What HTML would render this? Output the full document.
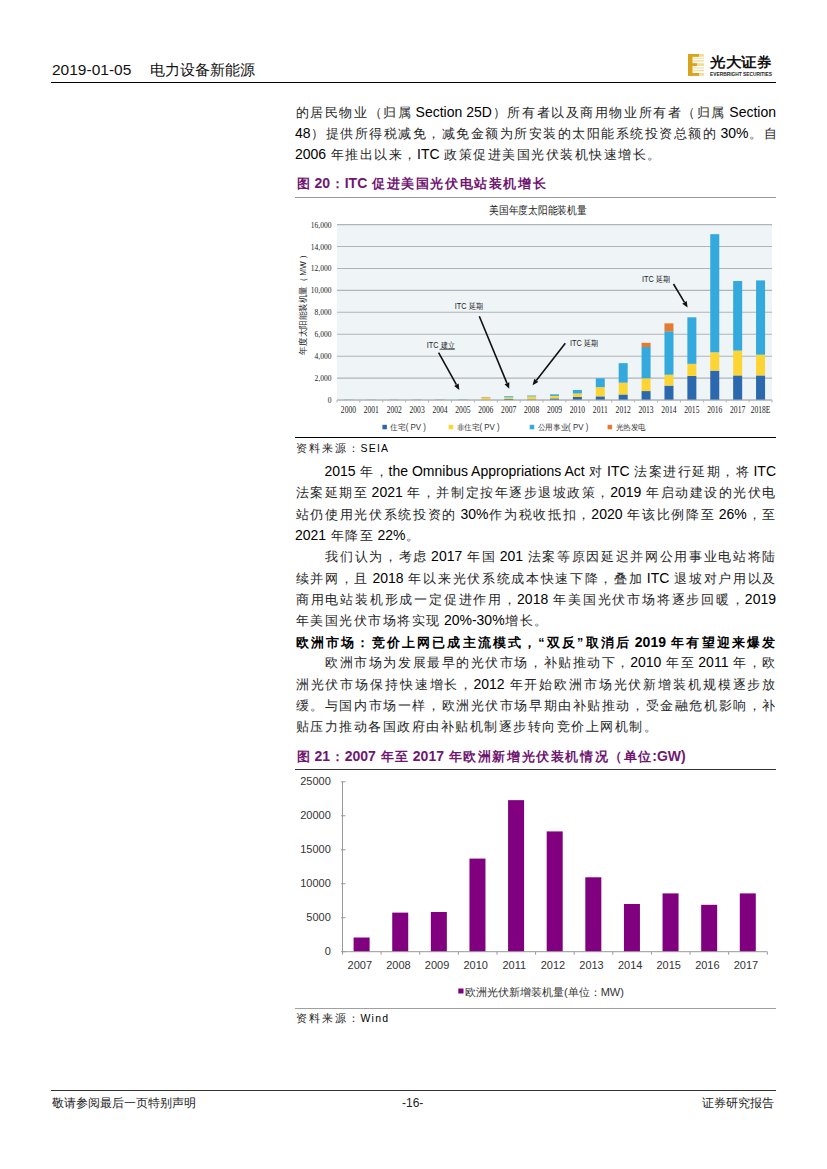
<!DOCTYPE html>
<html><head><meta charset="utf-8">
<style>
html,body{margin:0;padding:0;background:#fff;}
body{width:827px;height:1169px;position:relative;overflow:hidden;font-family:"Liberation Sans",sans-serif;color:#000;}
.a{position:absolute;white-space:nowrap;}
.ln{position:absolute;left:295px;width:481px;height:22px;line-height:22px;font-size:14px;white-space:nowrap;text-align:justify;text-align-last:justify;}
.ln.l{text-align:left;text-align-last:left;}
.c{font-size:12.5px;letter-spacing:1.5px;position:relative;left:0.75px;color:#262626;}
.cap .c{color:inherit}
.h .c{color:#000}
.cap{position:absolute;left:296px;font-size:14px;font-weight:bold;color:#701670;white-space:nowrap;line-height:20px;}
.src{position:absolute;left:296px;font-size:10.5px;letter-spacing:1.2px;white-space:nowrap;line-height:16px;}
.src .c{font-size:10.5px;letter-spacing:1.9px;left:0}
.cap .c{font-size:12.5px;letter-spacing:1.6px;left:0.8px}
.hr{position:absolute;height:0;}
.sv{font-family:"Liberation Serif",serif;}
.ss{font-family:"Liberation Sans",sans-serif;}
</style></head><body>

<!-- header -->
<div class="a" style="left:52px;top:58px;font-size:15.5px;line-height:24px;color:#111;">2019-01-05<span style="display:inline-block;width:19px"></span><span style="font-size:15px">电力设备新能源</span></div>
<div class="hr" style="left:51px;top:81.8px;width:725px;border-top:1.4px solid #000;"></div>

<!-- logo -->
<svg class="a" style="left:686px;top:52px" width="92" height="26" viewBox="0 0 92 26">
  <rect x="2" y="2" width="16" height="2.8" fill="#f1dc98"/>
  <rect x="2" y="2" width="11" height="2.8" fill="#d9a31c"/>
  <rect x="6.5" y="5.6" width="11.5" height="1.5" fill="#f4e6b4"/>
  <rect x="6.5" y="8.2" width="11.5" height="1.5" fill="#efe0a8"/>
  <rect x="2" y="11.2" width="16" height="2.8" fill="#f1dc98"/>
  <rect x="2" y="11.2" width="9" height="2.8" fill="#d9a31c"/>
  <rect x="6.5" y="15.2" width="11.5" height="1.5" fill="#f4e6b4"/>
  <rect x="6.5" y="17.8" width="11.5" height="1.5" fill="#efe0a8"/>
  <rect x="2" y="21" width="16" height="2.8" fill="#f1dc98"/>
  <rect x="2" y="21" width="11" height="2.8" fill="#d9a31c"/>
  <rect x="2" y="2" width="4.5" height="21.8" fill="#d9a31c"/>
  <text x="24" y="15" font-family="Liberation Serif" font-size="14" font-weight="bold" fill="#111" textLength="62" lengthAdjust="spacingAndGlyphs">光大证券</text>
  <text x="24" y="23.8" font-family="Liberation Sans" font-size="5" font-weight="bold" fill="#222" textLength="62" lengthAdjust="spacingAndGlyphs">EVERBRIGHT SECURITIES</text>
</svg>

<!-- paragraph 1 -->
<div class="ln" style="top:100.5px"><span class="c">的居民物业（归属</span> Section 25D<span class="c">）所有者以及商用物业所有者（归属</span> Section</div>
<div class="ln" style="top:121.8px">48<span class="c">）提供所得税减免，减免金额为所安装的太阳能系统投资总额的</span> 30%<span class="c">。自</span></div>
<div class="ln l" style="top:143px">2006 <span class="c">年推出以来，</span>ITC <span class="c">政策促进美国光伏装机快速增长。</span></div>

<!-- caption 20 -->
<div class="cap" style="top:173.4px"><span class="c">图</span> 20<span class="c">：</span>ITC <span class="c">促进美国光伏电站装机增长</span></div>
<div class="hr" style="left:295px;top:197px;width:481px;border-top:1px solid #999;"></div>

<!-- chart 1 -->
<svg class="a" style="left:0;top:0" width="827" height="440" viewBox="0 0 827 440">
<rect x="337.0" y="224" width="435.0" height="176.04000000000002" fill="#eff4f7"/>
<line x1="337.0" x2="772.0" y1="224.6" y2="224.6" stroke="#aeb4b8" stroke-width="1.1"/>
<text x="331.5" y="227.6" text-anchor="end" class="sv" font-size="9.2" fill="#1a1a1a" transform="translate(331.5 0) scale(0.82 1) translate(-331.5 0)">16,000</text>
<line x1="337.0" x2="772.0" y1="246.53" y2="246.53" stroke="#aeb4b8" stroke-width="1.1"/>
<text x="331.5" y="249.53" text-anchor="end" class="sv" font-size="9.2" fill="#1a1a1a" transform="translate(331.5 0) scale(0.82 1) translate(-331.5 0)">14,000</text>
<line x1="337.0" x2="772.0" y1="268.46" y2="268.46" stroke="#aeb4b8" stroke-width="1.1"/>
<text x="331.5" y="271.46" text-anchor="end" class="sv" font-size="9.2" fill="#1a1a1a" transform="translate(331.5 0) scale(0.82 1) translate(-331.5 0)">12,000</text>
<line x1="337.0" x2="772.0" y1="290.39" y2="290.39" stroke="#aeb4b8" stroke-width="1.1"/>
<text x="331.5" y="293.39" text-anchor="end" class="sv" font-size="9.2" fill="#1a1a1a" transform="translate(331.5 0) scale(0.82 1) translate(-331.5 0)">10,000</text>
<line x1="337.0" x2="772.0" y1="312.32" y2="312.32" stroke="#aeb4b8" stroke-width="1.1"/>
<text x="331.5" y="315.32" text-anchor="end" class="sv" font-size="9.2" fill="#1a1a1a" transform="translate(331.5 0) scale(0.82 1) translate(-331.5 0)">8,000</text>
<line x1="337.0" x2="772.0" y1="334.25" y2="334.25" stroke="#aeb4b8" stroke-width="1.1"/>
<text x="331.5" y="337.25" text-anchor="end" class="sv" font-size="9.2" fill="#1a1a1a" transform="translate(331.5 0) scale(0.82 1) translate(-331.5 0)">6,000</text>
<line x1="337.0" x2="772.0" y1="356.18" y2="356.18" stroke="#aeb4b8" stroke-width="1.1"/>
<text x="331.5" y="359.18" text-anchor="end" class="sv" font-size="9.2" fill="#1a1a1a" transform="translate(331.5 0) scale(0.82 1) translate(-331.5 0)">4,000</text>
<line x1="337.0" x2="772.0" y1="378.11" y2="378.11" stroke="#aeb4b8" stroke-width="1.1"/>
<text x="331.5" y="381.11" text-anchor="end" class="sv" font-size="9.2" fill="#1a1a1a" transform="translate(331.5 0) scale(0.82 1) translate(-331.5 0)">2,000</text>
<line x1="337.0" x2="772.0" y1="400.04" y2="400.04" stroke="#aeb4b8" stroke-width="1.1"/>
<text x="331.5" y="403.04" text-anchor="end" class="sv" font-size="9.2" fill="#1a1a1a" transform="translate(331.5 0) scale(0.82 1) translate(-331.5 0)">0</text>
<rect x="343.95" y="399.93" width="9" height="0.11" fill="#2b68ae"/>
<rect x="343.95" y="399.77" width="9" height="0.16" fill="#fcd535"/>
<rect x="343.95" y="399.55" width="9" height="0.22" fill="#33a9de"/>
<text x="348.45" y="413.3" text-anchor="middle" class="sv" font-size="9.5" fill="#1a1a1a" transform="translate(348.45 0) scale(0.8 1) translate(-348.45 0)">2000</text>
<rect x="366.84" y="399.93" width="9" height="0.11" fill="#2b68ae"/>
<rect x="366.84" y="399.77" width="9" height="0.16" fill="#fcd535"/>
<rect x="366.84" y="399.55" width="9" height="0.22" fill="#33a9de"/>
<text x="371.34" y="413.3" text-anchor="middle" class="sv" font-size="9.5" fill="#1a1a1a" transform="translate(371.34 0) scale(0.8 1) translate(-371.34 0)">2001</text>
<rect x="389.74" y="399.93" width="9" height="0.11" fill="#2b68ae"/>
<rect x="389.74" y="399.71" width="9" height="0.22" fill="#fcd535"/>
<rect x="389.74" y="399.49" width="9" height="0.22" fill="#33a9de"/>
<text x="394.24" y="413.3" text-anchor="middle" class="sv" font-size="9.5" fill="#1a1a1a" transform="translate(394.24 0) scale(0.8 1) translate(-394.24 0)">2002</text>
<rect x="412.63" y="399.88" width="9" height="0.16" fill="#2b68ae"/>
<rect x="412.63" y="399.6" width="9" height="0.27" fill="#fcd535"/>
<rect x="412.63" y="399.38" width="9" height="0.22" fill="#33a9de"/>
<text x="417.13" y="413.3" text-anchor="middle" class="sv" font-size="9.5" fill="#1a1a1a" transform="translate(417.13 0) scale(0.8 1) translate(-417.13 0)">2003</text>
<rect x="435.53" y="399.82" width="9" height="0.22" fill="#2b68ae"/>
<rect x="435.53" y="399.49" width="9" height="0.33" fill="#fcd535"/>
<rect x="435.53" y="399.27" width="9" height="0.22" fill="#33a9de"/>
<text x="440.03" y="413.3" text-anchor="middle" class="sv" font-size="9.5" fill="#1a1a1a" transform="translate(440.03 0) scale(0.8 1) translate(-440.03 0)">2004</text>
<rect x="458.42" y="399.77" width="9" height="0.27" fill="#2b68ae"/>
<rect x="458.42" y="399.38" width="9" height="0.38" fill="#fcd535"/>
<rect x="458.42" y="399.16" width="9" height="0.22" fill="#33a9de"/>
<text x="462.92" y="413.3" text-anchor="middle" class="sv" font-size="9.5" fill="#1a1a1a" transform="translate(462.92 0) scale(0.8 1) translate(-462.92 0)">2005</text>
<rect x="481.32" y="399.6" width="9" height="0.44" fill="#2b68ae"/>
<rect x="481.32" y="397.52" width="9" height="2.08" fill="#fcd535"/>
<rect x="481.32" y="397.3" width="9" height="0.22" fill="#33a9de"/>
<rect x="481.32" y="396.97" width="9" height="0.33" fill="#e77a2e"/>
<text x="485.82" y="413.3" text-anchor="middle" class="sv" font-size="9.5" fill="#1a1a1a" transform="translate(485.82 0) scale(0.8 1) translate(-485.82 0)">2006</text>
<rect x="504.21" y="398.94" width="9" height="1.1" fill="#2b68ae"/>
<rect x="504.21" y="397.3" width="9" height="1.64" fill="#fcd535"/>
<rect x="504.21" y="396.26" width="9" height="1.04" fill="#33a9de"/>
<text x="508.71" y="413.3" text-anchor="middle" class="sv" font-size="9.5" fill="#1a1a1a" transform="translate(508.71 0) scale(0.8 1) translate(-508.71 0)">2007</text>
<rect x="527.11" y="399.38" width="9" height="0.66" fill="#2b68ae"/>
<rect x="527.11" y="396.42" width="9" height="2.96" fill="#fcd535"/>
<rect x="527.11" y="395.54" width="9" height="0.88" fill="#33a9de"/>
<text x="531.61" y="413.3" text-anchor="middle" class="sv" font-size="9.5" fill="#1a1a1a" transform="translate(531.61 0) scale(0.8 1) translate(-531.61 0)">2008</text>
<rect x="550" y="398.4" width="9" height="1.64" fill="#2b68ae"/>
<rect x="550" y="395.87" width="9" height="2.52" fill="#fcd535"/>
<rect x="550" y="394.34" width="9" height="1.54" fill="#33a9de"/>
<text x="554.5" y="413.3" text-anchor="middle" class="sv" font-size="9.5" fill="#1a1a1a" transform="translate(554.5 0) scale(0.8 1) translate(-554.5 0)">2009</text>
<rect x="572.89" y="396.97" width="9" height="3.07" fill="#2b68ae"/>
<rect x="572.89" y="393.46" width="9" height="3.51" fill="#fcd535"/>
<rect x="572.89" y="389.95" width="9" height="3.51" fill="#33a9de"/>
<text x="577.39" y="413.3" text-anchor="middle" class="sv" font-size="9.5" fill="#1a1a1a" transform="translate(577.39 0) scale(0.8 1) translate(-577.39 0)">2010</text>
<rect x="595.79" y="396.36" width="9" height="3.68" fill="#2b68ae"/>
<rect x="595.79" y="387.18" width="9" height="9.18" fill="#fcd535"/>
<rect x="595.79" y="378.31" width="9" height="8.87" fill="#33a9de"/>
<text x="600.29" y="413.3" text-anchor="middle" class="sv" font-size="9.5" fill="#1a1a1a" transform="translate(600.29 0) scale(0.8 1) translate(-600.29 0)">2011</text>
<rect x="618.68" y="394.46" width="9" height="5.58" fill="#2b68ae"/>
<rect x="618.68" y="382.69" width="9" height="11.77" fill="#fcd535"/>
<rect x="618.68" y="363.15" width="9" height="19.54" fill="#33a9de"/>
<text x="623.18" y="413.3" text-anchor="middle" class="sv" font-size="9.5" fill="#1a1a1a" transform="translate(623.18 0) scale(0.8 1) translate(-623.18 0)">2012</text>
<rect x="641.58" y="391.07" width="9" height="8.97" fill="#2b68ae"/>
<rect x="641.58" y="378.31" width="9" height="12.76" fill="#fcd535"/>
<rect x="641.58" y="347.01" width="9" height="31.29" fill="#33a9de"/>
<rect x="641.58" y="342.82" width="9" height="4.19" fill="#e77a2e"/>
<text x="646.08" y="413.3" text-anchor="middle" class="sv" font-size="9.5" fill="#1a1a1a" transform="translate(646.08 0) scale(0.8 1) translate(-646.08 0)">2013</text>
<rect x="664.47" y="385.59" width="9" height="14.45" fill="#2b68ae"/>
<rect x="664.47" y="374.72" width="9" height="10.87" fill="#fcd535"/>
<rect x="664.47" y="331.26" width="9" height="43.47" fill="#33a9de"/>
<rect x="664.47" y="323.38" width="9" height="7.87" fill="#e77a2e"/>
<text x="668.97" y="413.3" text-anchor="middle" class="sv" font-size="9.5" fill="#1a1a1a" transform="translate(668.97 0) scale(0.8 1) translate(-668.97 0)">2014</text>
<rect x="687.37" y="375.92" width="9" height="24.12" fill="#2b68ae"/>
<rect x="687.37" y="363.86" width="9" height="12.06" fill="#fcd535"/>
<rect x="687.37" y="317.31" width="9" height="46.55" fill="#33a9de"/>
<text x="691.87" y="413.3" text-anchor="middle" class="sv" font-size="9.5" fill="#1a1a1a" transform="translate(691.87 0) scale(0.8 1) translate(-691.87 0)">2015</text>
<rect x="710.26" y="370.63" width="9" height="29.41" fill="#2b68ae"/>
<rect x="710.26" y="352.29" width="9" height="18.34" fill="#fcd535"/>
<rect x="710.26" y="234.17" width="9" height="118.11" fill="#33a9de"/>
<text x="714.76" y="413.3" text-anchor="middle" class="sv" font-size="9.5" fill="#1a1a1a" transform="translate(714.76 0) scale(0.8 1) translate(-714.76 0)">2016</text>
<rect x="733.16" y="375.42" width="9" height="24.62" fill="#2b68ae"/>
<rect x="733.16" y="350.6" width="9" height="24.82" fill="#fcd535"/>
<rect x="733.16" y="281.03" width="9" height="69.57" fill="#33a9de"/>
<text x="737.66" y="413.3" text-anchor="middle" class="sv" font-size="9.5" fill="#1a1a1a" transform="translate(737.66 0) scale(0.8 1) translate(-737.66 0)">2017</text>
<rect x="756.05" y="375.42" width="9" height="24.62" fill="#2b68ae"/>
<rect x="756.05" y="354.69" width="9" height="20.73" fill="#fcd535"/>
<rect x="756.05" y="280.42" width="9" height="74.27" fill="#33a9de"/>
<text x="760.55" y="413.3" text-anchor="middle" class="sv" font-size="9.5" fill="#1a1a1a" transform="translate(760.55 0) scale(0.8 1) translate(-760.55 0)">2018E</text>
<line x1="337.0" x2="772.0" y1="400.04" y2="400.04" stroke="#aeb4b8" stroke-width="1"/>
<line x1="337" x2="337" y1="400.04" y2="402.54" stroke="#aeb4b8" stroke-width="1"/>
<line x1="359.89" x2="359.89" y1="400.04" y2="402.54" stroke="#aeb4b8" stroke-width="1"/>
<line x1="382.79" x2="382.79" y1="400.04" y2="402.54" stroke="#aeb4b8" stroke-width="1"/>
<line x1="405.68" x2="405.68" y1="400.04" y2="402.54" stroke="#aeb4b8" stroke-width="1"/>
<line x1="428.58" x2="428.58" y1="400.04" y2="402.54" stroke="#aeb4b8" stroke-width="1"/>
<line x1="451.47" x2="451.47" y1="400.04" y2="402.54" stroke="#aeb4b8" stroke-width="1"/>
<line x1="474.37" x2="474.37" y1="400.04" y2="402.54" stroke="#aeb4b8" stroke-width="1"/>
<line x1="497.26" x2="497.26" y1="400.04" y2="402.54" stroke="#aeb4b8" stroke-width="1"/>
<line x1="520.16" x2="520.16" y1="400.04" y2="402.54" stroke="#aeb4b8" stroke-width="1"/>
<line x1="543.05" x2="543.05" y1="400.04" y2="402.54" stroke="#aeb4b8" stroke-width="1"/>
<line x1="565.95" x2="565.95" y1="400.04" y2="402.54" stroke="#aeb4b8" stroke-width="1"/>
<line x1="588.84" x2="588.84" y1="400.04" y2="402.54" stroke="#aeb4b8" stroke-width="1"/>
<line x1="611.74" x2="611.74" y1="400.04" y2="402.54" stroke="#aeb4b8" stroke-width="1"/>
<line x1="634.63" x2="634.63" y1="400.04" y2="402.54" stroke="#aeb4b8" stroke-width="1"/>
<line x1="657.53" x2="657.53" y1="400.04" y2="402.54" stroke="#aeb4b8" stroke-width="1"/>
<line x1="680.42" x2="680.42" y1="400.04" y2="402.54" stroke="#aeb4b8" stroke-width="1"/>
<line x1="703.32" x2="703.32" y1="400.04" y2="402.54" stroke="#aeb4b8" stroke-width="1"/>
<line x1="726.21" x2="726.21" y1="400.04" y2="402.54" stroke="#aeb4b8" stroke-width="1"/>
<line x1="749.11" x2="749.11" y1="400.04" y2="402.54" stroke="#aeb4b8" stroke-width="1"/>
<line x1="772" x2="772" y1="400.04" y2="402.54" stroke="#aeb4b8" stroke-width="1"/>
<text x="489" y="214.3" font-size="11.3" fill="#222" class="ss" textLength="97.5" lengthAdjust="spacingAndGlyphs">美国年度太阳能装机量</text>
<text x="0" y="0" text-anchor="middle" font-size="8.6" fill="#222" class="ss" textLength="104" lengthAdjust="spacingAndGlyphs" transform="translate(305.8 302.5) rotate(-90)">年度太阳能装机量（ MW ）</text>
<rect x="382.4" y="424.8" width="4.5" height="4.5" fill="#2b68ae"/>
<text x="390.4" y="430.3" font-size="8.3" fill="#333" class="ss" textLength="35.6" lengthAdjust="spacingAndGlyphs">住宅( PV )</text>
<rect x="448.7" y="424.8" width="4.5" height="4.5" fill="#fcd535"/>
<text x="456.7" y="430.3" font-size="8.3" fill="#333" class="ss" textLength="43" lengthAdjust="spacingAndGlyphs">非住宅( PV )</text>
<rect x="529.7" y="424.8" width="4.5" height="4.5" fill="#33a9de"/>
<text x="537.7" y="430.3" font-size="8.3" fill="#333" class="ss" textLength="50.6" lengthAdjust="spacingAndGlyphs">公用事业( PV )</text>
<rect x="607.6" y="424.8" width="4.5" height="4.5" fill="#e77a2e"/>
<text x="615.6" y="430.3" font-size="8.3" fill="#333" class="ss" textLength="30" lengthAdjust="spacingAndGlyphs">光热发电</text>
<text x="426.8" y="348" font-size="8.3" fill="#222" class="ss" textLength="28" lengthAdjust="spacingAndGlyphs">ITC 建立</text>
<line x1="438.6" y1="352.6" x2="456.39" y2="384.65" stroke="#111" stroke-width="1.6"/><polygon points="459.3,389.9 454.12,385.92 458.66,383.39" fill="#111"/>
<text x="454.7" y="308.6" font-size="8.3" fill="#222" class="ss" textLength="28" lengthAdjust="spacingAndGlyphs">ITC 延期</text>
<line x1="479.3" y1="316.2" x2="506.91" y2="383.15" stroke="#111" stroke-width="1.6"/><polygon points="509.2,388.7 504.51,384.14 509.32,382.16" fill="#111"/>
<text x="570" y="346.2" font-size="8.3" fill="#222" class="ss" textLength="28" lengthAdjust="spacingAndGlyphs">ITC 延期</text>
<line x1="565.3" y1="343.2" x2="536.29" y2="380.47" stroke="#111" stroke-width="1.6"/><polygon points="532.6,385.2 534.23,378.87 538.34,382.06" fill="#111"/>
<text x="641.9" y="282" font-size="8.3" fill="#222" class="ss" textLength="28" lengthAdjust="spacingAndGlyphs">ITC 延期</text>
<line x1="673.5" y1="284" x2="684.51" y2="302.36" stroke="#111" stroke-width="1.6"/><polygon points="687.6,307.5 682.28,303.69 686.74,301.02" fill="#111"/>
<line x1="439.5" x2="454.8" y1="349.3" y2="349.3" stroke="#333" stroke-width="0.8"/>
</svg>
<div class="hr" style="left:295px;top:437px;width:481px;border-top:1.2px solid #000;"></div>
<div class="src" style="top:439.5px"><span class="c">资料来源：</span>SEIA</div>

<!-- paragraph 2 -->
<div class="ln" style="top:460px;left:324.5px;width:451.5px">2015 <span class="c">年，</span>the Omnibus Appropriations Act <span class="c">对</span> ITC <span class="c">法案进行延期，将</span> ITC</div>
<div class="ln" style="top:481.3px"><span class="c">法案延期至</span> 2021 <span class="c">年，并制定按年逐步退坡政策，</span>2019 <span class="c">年启动建设的光伏电</span></div>
<div class="ln" style="top:502.6px"><span class="c">站仍使用光伏系统投资的</span> 30%<span class="c">作为税收抵扣，</span>2020 <span class="c">年该比例降至</span> 26%<span class="c">，至</span></div>
<div class="ln l" style="top:523.9px">2021 <span class="c">年降至</span> 22%<span class="c">。</span></div>

<!-- paragraph 3 -->
<div class="ln" style="top:545.2px;left:324.5px;width:451.5px"><span class="c">我们认为，考虑</span> 2017 <span class="c">年国</span> 201 <span class="c">法案等原因延迟并网公用事业电站将陆</span></div>
<div class="ln" style="top:566.5px"><span class="c">续并网，且</span> 2018 <span class="c">年以来光伏系统成本快速下降，叠加</span> ITC <span class="c">退坡对户用以及</span></div>
<div class="ln" style="top:587.8px"><span class="c">商用电站装机形成一定促进作用，</span>2018 <span class="c">年美国光伏市场将逐步回暖，</span>2019</div>
<div class="ln l" style="top:609.1px"><span class="c">年美国光伏市场将实现</span> 20%-30%<span class="c">增长。</span></div>

<!-- heading -->
<div class="ln h" style="top:631px;font-weight:bold"><span class="c">欧洲市场：竞价上网已成主流模式，“双反”取消后</span> 2019 <span class="c">年有望迎来爆发</span></div>

<!-- paragraph 4 -->
<div class="ln" style="top:651.2px;left:324.5px;width:451.5px"><span class="c">欧洲市场为发展最早的光伏市场，补贴推动下，</span>2010 <span class="c">年至</span> 2011 <span class="c">年，欧</span></div>
<div class="ln" style="top:672.5px"><span class="c">洲光伏市场保持快速增长，</span>2012 <span class="c">年开始欧洲市场光伏新增装机规模逐步放</span></div>
<div class="ln" style="top:693.8px"><span class="c">缓。与国内市场一样，欧洲光伏市场早期由补贴推动，受金融危机影响，补</span></div>
<div class="ln l" style="top:715.1px"><span class="c">贴压力推动各国政府由补贴机制逐步转向竞价上网机制。</span></div>

<!-- caption 21 -->
<div class="cap" style="top:746px"><span class="c">图</span> 21<span class="c">：</span>2007 <span class="c">年至</span> 2017 <span class="c">年欧洲新增光伏装机情况（单位</span>:GW)</div>
<div class="hr" style="left:295px;top:769px;width:481px;border-top:1.2px solid #333;"></div>

<!-- chart 2 -->
<svg class="a" style="left:0;top:0" width="827" height="1010" viewBox="0 0 827 1010">
<line x1="342.5" x2="342.5" y1="781.8" y2="951.7" stroke="#999" stroke-width="1"/>
<line x1="341.0" x2="345.5" y1="951.7" y2="951.7" stroke="#999" stroke-width="1"/>
<text x="330.8" y="955" text-anchor="end" font-size="11" fill="#333" class="ss">0</text>
<line x1="341.0" x2="345.5" y1="917.72" y2="917.72" stroke="#999" stroke-width="1"/>
<text x="330.8" y="921.02" text-anchor="end" font-size="11" fill="#333" class="ss">5000</text>
<line x1="341.0" x2="345.5" y1="883.74" y2="883.74" stroke="#999" stroke-width="1"/>
<text x="330.8" y="887.04" text-anchor="end" font-size="11" fill="#333" class="ss">10000</text>
<line x1="341.0" x2="345.5" y1="849.76" y2="849.76" stroke="#999" stroke-width="1"/>
<text x="330.8" y="853.06" text-anchor="end" font-size="11" fill="#333" class="ss">15000</text>
<line x1="341.0" x2="345.5" y1="815.78" y2="815.78" stroke="#999" stroke-width="1"/>
<text x="330.8" y="819.08" text-anchor="end" font-size="11" fill="#333" class="ss">20000</text>
<line x1="341.0" x2="345.5" y1="781.8" y2="781.8" stroke="#999" stroke-width="1"/>
<text x="330.8" y="785.1" text-anchor="end" font-size="11" fill="#333" class="ss">25000</text>
<rect x="353.61" y="937.51" width="16" height="14.19" fill="#800080"/>
<text x="359.81" y="968.6" text-anchor="middle" font-size="11" fill="#333" class="ss">2007</text>
<rect x="392.23" y="912.62" width="16" height="39.08" fill="#800080"/>
<text x="398.43" y="968.6" text-anchor="middle" font-size="11" fill="#333" class="ss">2008</text>
<rect x="430.85" y="912.01" width="16" height="39.69" fill="#800080"/>
<text x="437.05" y="968.6" text-anchor="middle" font-size="11" fill="#333" class="ss">2009</text>
<rect x="469.46" y="858.59" width="16" height="93.11" fill="#800080"/>
<text x="475.66" y="968.6" text-anchor="middle" font-size="11" fill="#333" class="ss">2010</text>
<rect x="508.08" y="800.15" width="16" height="151.55" fill="#800080"/>
<text x="514.28" y="968.6" text-anchor="middle" font-size="11" fill="#333" class="ss">2011</text>
<rect x="546.7" y="831.41" width="16" height="120.29" fill="#800080"/>
<text x="552.9" y="968.6" text-anchor="middle" font-size="11" fill="#333" class="ss">2012</text>
<rect x="585.32" y="877.28" width="16" height="74.42" fill="#800080"/>
<text x="591.52" y="968.6" text-anchor="middle" font-size="11" fill="#333" class="ss">2013</text>
<rect x="623.94" y="903.99" width="16" height="47.71" fill="#800080"/>
<text x="630.14" y="968.6" text-anchor="middle" font-size="11" fill="#333" class="ss">2014</text>
<rect x="662.55" y="893.39" width="16" height="58.31" fill="#800080"/>
<text x="668.75" y="968.6" text-anchor="middle" font-size="11" fill="#333" class="ss">2015</text>
<rect x="701.17" y="904.81" width="16" height="46.89" fill="#800080"/>
<text x="707.37" y="968.6" text-anchor="middle" font-size="11" fill="#333" class="ss">2016</text>
<rect x="739.79" y="893.39" width="16" height="58.31" fill="#800080"/>
<text x="745.99" y="968.6" text-anchor="middle" font-size="11" fill="#333" class="ss">2017</text>
<line x1="342.5" x2="767.3" y1="951.7" y2="951.7" stroke="#999" stroke-width="1"/>
<line x1="342.5" x2="342.5" y1="951.7" y2="954.7" stroke="#999" stroke-width="1"/>
<line x1="381.12" x2="381.12" y1="951.7" y2="954.7" stroke="#999" stroke-width="1"/>
<line x1="419.74" x2="419.74" y1="951.7" y2="954.7" stroke="#999" stroke-width="1"/>
<line x1="458.35" x2="458.35" y1="951.7" y2="954.7" stroke="#999" stroke-width="1"/>
<line x1="496.97" x2="496.97" y1="951.7" y2="954.7" stroke="#999" stroke-width="1"/>
<line x1="535.59" x2="535.59" y1="951.7" y2="954.7" stroke="#999" stroke-width="1"/>
<line x1="574.21" x2="574.21" y1="951.7" y2="954.7" stroke="#999" stroke-width="1"/>
<line x1="612.83" x2="612.83" y1="951.7" y2="954.7" stroke="#999" stroke-width="1"/>
<line x1="651.45" x2="651.45" y1="951.7" y2="954.7" stroke="#999" stroke-width="1"/>
<line x1="690.06" x2="690.06" y1="951.7" y2="954.7" stroke="#999" stroke-width="1"/>
<line x1="728.68" x2="728.68" y1="951.7" y2="954.7" stroke="#999" stroke-width="1"/>
<line x1="767.3" x2="767.3" y1="951.7" y2="954.7" stroke="#999" stroke-width="1"/>
<rect x="458.3" y="988.5" width="5.2" height="5" fill="#800080"/>
<text x="465" y="996" font-size="11" fill="#333" class="ss">欧洲光伏新增装机量(单位：MW)</text>
</svg>
<div class="hr" style="left:295px;top:1008.2px;width:481px;border-top:1.6px solid #a0a0a0;"></div>
<div class="src" style="top:1009.5px"><span class="c">资料来源：</span>Wind</div>

<!-- footer -->
<div class="hr" style="left:51px;top:1089.5px;width:725px;border-top:1.1px solid #333;"></div>
<div class="a" style="left:51.5px;top:1095.3px;font-size:12.2px;line-height:16px;color:#222">敬请参阅最后一页特别声明</div>
<div class="a" style="left:402px;top:1095.3px;font-size:12px;line-height:16px;color:#222">-16-</div>
<div class="a" style="left:702px;top:1095.3px;font-size:12.2px;line-height:16px;color:#222">证券研究报告</div>

</body></html>
